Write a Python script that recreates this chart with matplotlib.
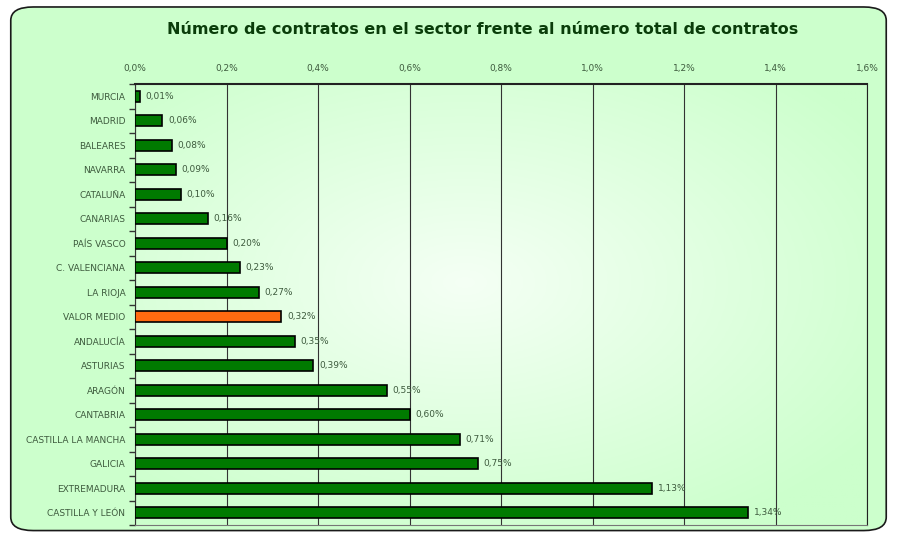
import numpy as np
import matplotlib
matplotlib.use('Agg')
import matplotlib.pyplot as plt
from matplotlib.patches import FancyBboxPatch
from matplotlib.ticker import FuncFormatter, MultipleLocator

# datos (porcentaje)
regiones = ['MURCIA', 'MADRID', 'BALEARES', 'NAVARRA', 'CATALUÑA', 'CANARIAS',
            'PAÍS VASCO', 'C. VALENCIANA', 'LA RIOJA', 'VALOR MEDIO', 'ANDALUCÍA',
            'ASTURIAS', 'ARAGÓN', 'CANTABRIA', 'CASTILLA LA MANCHA', 'GALICIA',
            'EXTREMADURA', 'CASTILLA Y LEÓN']
valores = [0.01, 0.06, 0.08, 0.09, 0.10, 0.16, 0.20, 0.23, 0.27, 0.32, 0.35,
           0.39, 0.55, 0.60, 0.71, 0.75, 1.13, 1.34]
etiquetas = ['0,01%', '0,06%', '0,08%', '0,09%', '0,10%', '0,16%', '0,20%', '0,23%',
             '0,27%', '0,32%', '0,35%', '0,39%', '0,55%', '0,60%', '0,71%', '0,75%',
             '1,13%', '1,34%']

verde = '#007a00'
naranja = '#ff6a10'
texto = '#3d5a3d'

fig = plt.figure(figsize=(8.97, 5.37), dpi=100)
fig.patch.set_facecolor('white')

# marco redondeado con fondo verde
marco = FancyBboxPatch((0.012, 0.012), 0.976, 0.975, boxstyle='round,pad=0,rounding_size=0.025',
                       transform=fig.transFigure, facecolor='#ccffcc', edgecolor='#1a1a1a',
                       linewidth=1.2, zorder=-10)
fig.patches.append(marco)

ax = fig.add_axes([135/897, 1-525/537, 732/897, 441/537])
ax.set_zorder(1)

# degradado radial del fondo
xx, yy = np.meshgrid(np.linspace(-1, 1, 200), np.linspace(-1, 1, 200))
r = np.clip(np.sqrt(((xx + 0.1) / 1.35) ** 2 + ((yy + 0.1) / 1.3) ** 2), 0, 1)
c0 = np.array([0.96, 1.0, 0.96])
c1 = np.array([0.80, 1.0, 0.80])
img = c0[None, None, :] * (1 - r[..., None]) + c1[None, None, :] * r[..., None]
ax.imshow(img, extent=[0, 1.6, len(regiones) - 0.5, -0.5], aspect='auto', zorder=0)

y = np.arange(len(regiones))
colores = [naranja if reg == 'VALOR MEDIO' else verde for reg in regiones]
ax.barh(y, valores, height=0.45, color=colores, edgecolor='black', linewidth=1.2, zorder=3)

for yi, v, t in zip(y, valores, etiquetas):
    ax.text(v + 0.012, yi, t, va='center', ha='left', fontsize=6.5, color=texto, zorder=4)

ax.set_xlim(0, 1.6)
ax.set_ylim(len(regiones) - 0.5, -0.5)
ax.xaxis.set_major_locator(MultipleLocator(0.2))
ax.xaxis.set_major_formatter(FuncFormatter(lambda v, p: ('%.1f%%' % v).replace('.', ',')))
ax.xaxis.tick_top()
ax.tick_params(axis='x', length=0, labelsize=6.5, labelcolor=texto, pad=8)
ax.set_yticks(y)
ax.set_yticklabels(regiones, fontsize=6.5, color=texto)
ax.set_yticks(np.arange(len(regiones) + 1) - 0.5, minor=True)
ax.tick_params(axis='y', which='major', length=0, pad=7)
ax.tick_params(axis='y', which='minor', length=4, width=1, color='#333333', direction='out')
ax.grid(axis='x', color='#333333', linewidth=0.8, zorder=1)
ax.set_axisbelow(True)

ax.spines['top'].set_linewidth(1.5)
ax.spines['top'].set_color('#222222')
ax.spines['right'].set_color('#222222')
ax.spines['left'].set_color('#333333')
ax.spines['bottom'].set_color('#777777')

fig.text(0.538, 1 - 30/537, 'Número de contratos en el sector frente al número total de contratos',
         ha='center', va='center', fontsize=11.5, fontweight='bold', color='#0a3d0a')

fig.savefig('out.png', dpi=100, facecolor=fig.get_facecolor())
